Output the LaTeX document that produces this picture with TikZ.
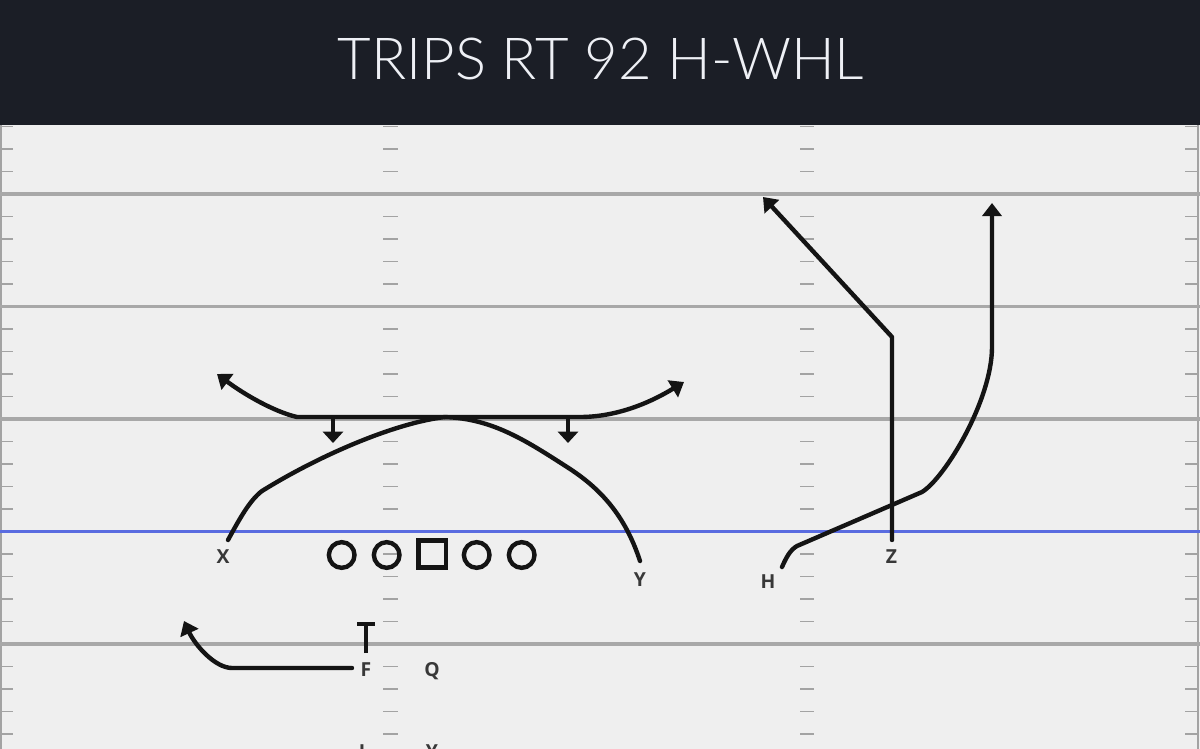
\documentclass[tikz,border=0pt]{standalone}
\usepackage{fontspec}
\newfontfamily\titlefont{Lato Light}
\newfontfamily\lblfont{Open Sans}
\usetikzlibrary{arrows.meta}
\definecolor{hdr}{HTML}{1B1E26}
\definecolor{fieldbg}{HTML}{EFEFEF}
\definecolor{yardc}{HTML}{A8A8A8}
\definecolor{tickc}{HTML}{A3A3A3}
\definecolor{losc}{HTML}{5A6CE0}
\definecolor{ink}{HTML}{141414}
\definecolor{lblc}{HTML}{383838}
\definecolor{titlec}{HTML}{EEF0F5}
\begin{document}
\begin{tikzpicture}[x=0.02cm,y=-0.02cm,
  route/.style={draw=ink, line width=2.5pt, line cap=round, line join=round},
  routearrow/.style={route, -{Triangle[length=7.5pt,width=11pt]}},
  sitarrow/.style={route, line cap=butt, -{Triangle[length=6.5pt,width=11.5pt]}},
  blockbar/.style={route, line cap=butt},
  yard/.style={draw=yardc, line width=2pt},
  hashtick/.style={draw=tickc, line width=1.1pt},
  lbl/.style={font=\lblfont\bfseries\fontsize{11}{13}\selectfont, text=lblc, inner sep=0pt, anchor=base},
  lineman/.style={circle, draw=ink, line width=2.5pt, minimum size=14.6pt, inner sep=0pt},
  snapbox/.style={rectangle, draw=ink, line width=2.5pt, minimum size=15.5pt, inner sep=0pt}
]
\useasboundingbox (0,0) rectangle (1200,749);
\clip (0,0) rectangle (1200,749);
\fill[fieldbg] (0,0) rectangle (1200,749);

% hash ticks
\foreach \m in {0,...,5}{
  \foreach \j in {1,2,3,4}{
    \pgfmathsetmacro\yy{81.5+112.5*\m+22.5*\j}
    \draw[hashtick] (0,\yy) -- (13,\yy);
    \draw[hashtick] (383,\yy) -- (398,\yy);
    \draw[hashtick] (800,\yy) -- (814,\yy);
    \draw[hashtick] (1185,\yy) -- (1197,\yy);
  }
}
\draw[hashtick] (1,125) -- (1,749);
\draw[hashtick] (1198,125) -- (1198,749);

% yard lines
\foreach \yy in {194,306.5,419,644}{
  \draw[yard] (0,\yy) -- (1200,\yy);
}
\draw[draw=losc, line width=1.8pt] (0,531.5) -- (1200,531.5);

% header
\fill[hdr] (0,0) rectangle (1200,125);
\node[font=\titlefont\fontsize{33}{40}\selectfont, text=titlec, anchor=base, inner sep=0pt] (title) at (601,80) {TRIPS RT 92 H-WHL};

% offensive line
\node[lineman] (lt) at (341.7,555) {};
\node[lineman] (lg) at (386.7,555) {};
\node[snapbox] (c) at (432.3,554) {};
\node[lineman] (rg) at (476.7,555) {};
\node[lineman] (rt) at (521.7,555) {};

% labels
\node[lbl] (X) at (223,563) {X};
\node[lbl] (Y) at (640,586) {Y};
\node[lbl] (Z) at (891.5,563.5) {Z};
\node[lbl] (H) at (768,588) {H};
\node[lbl] (F) at (366,676) {F};
\node[lbl] (Q) at (432,676) {Q};
\node[lbl] (I2) at (362,758) {I};
\node[lbl] (Y2) at (432,758) {Y};

% route anchors
\coordinate (xs) at (228,540);
\coordinate (ys) at (640,561);
\coordinate (zs) at (892,540);
\coordinate (hs) at (782,567);
\coordinate (fs) at (352,668);
\coordinate (sitL) at (333,417);
\coordinate (sitLe) at (333,443);
\coordinate (sitR) at (568,417);
\coordinate (sitRe) at (568,443);
\coordinate (blk) at (366,653);
\coordinate (blkt) at (366,624);
\coordinate (blkl) at (357,624);
\coordinate (blkr) at (375,624);

% X route
\draw[routearrow] (xs) .. controls (240,518) and (250,500) .. (262,491)
  .. controls (320,455) and (395,423) .. (445,417) -- (580,417)
  .. controls (615,417) and (648,404) .. (684,382);
% Y route
\draw[routearrow] (ys) .. controls (625,515) and (600,488) .. (567,467)
  .. controls (525,440) and (490,417) .. (440,417) -- (297,417)
  .. controls (275,412) and (245,395) .. (217,374);
% sit arrows
\draw[sitarrow] (sitL) -- (sitLe);
\draw[sitarrow] (sitR) -- (sitRe);
% Z route
\draw[routearrow] (zs) -- (892,337) -- (763,197);
% H route
\draw[routearrow] (hs) .. controls (786,558) and (790,550) .. (797,546) -- (922,492)
  .. controls (945,478) and (992,400) .. (992,347) -- (992,203);
% F route
\draw[routearrow] (fs) -- (232,668) .. controls (215,668) and (195,645) .. (184,621);
% block
\draw[blockbar] (blk) -- (blkt);
\draw[blockbar] (blkl) -- (blkr);
\end{tikzpicture}
\end{document}
